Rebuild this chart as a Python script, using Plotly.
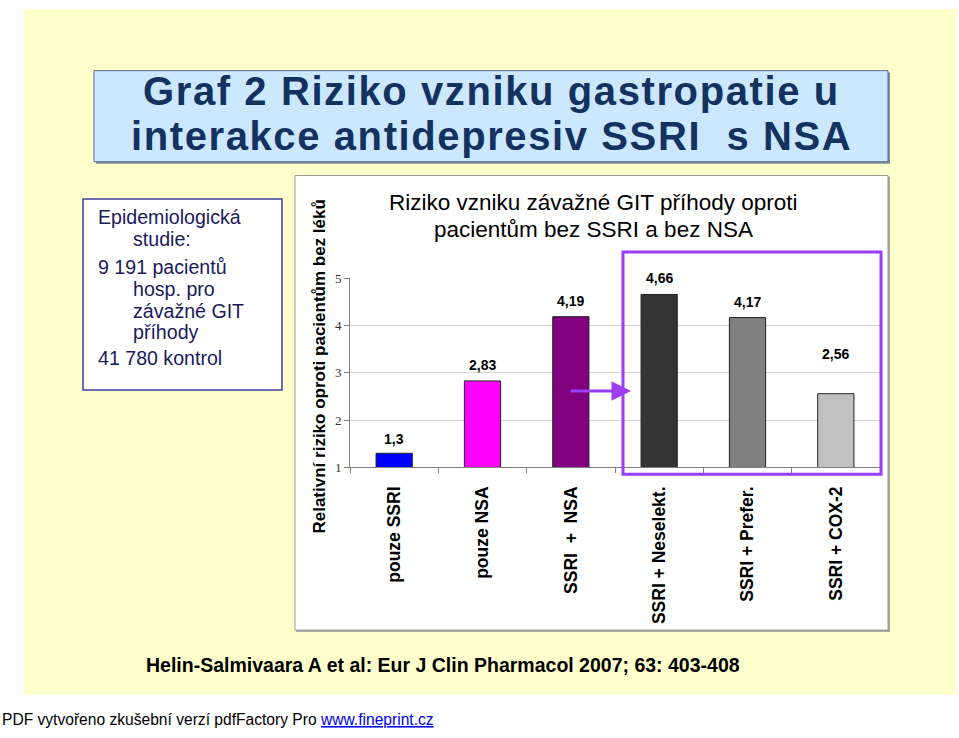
import plotly.graph_objects as go

# ---- data ----
categories = ["pouze SSRI", "pouze NSA", "SSRI\u00a0\u00a0+\u00a0\u00a0NSA",
              "SSRI + Neselekt.", "SSRI + Prefer.", "SSRI + COX-2"]
values = [1.3, 2.83, 4.19, 4.66, 4.17, 2.56]
bar_colors = ["#0000FF", "#FF00FF", "#800080", "#333333", "#808080", "#C0C0C0"]
y_ticks = [1, 2, 3, 4, 5]

title_lines = ["Graf 2 Riziko vzniku gastropatie u", "interakce antidepresiv SSRI  s NSA"]
chart_title_lines = ["Riziko vzniku závažné GIT příhody oproti", "pacientům bez SSRI a bez NSA"]
y_title = "Relativní riziko oproti pacientům bez léků"
citation = "Helin-Salmivaara A et al: Eur J Clin Pharmacol 2007; 63: 403-408"
footer = "PDF vytvořeno zkušební verzí pdfFactory Pro "
footer_link = "www.fineprint.cz"
box_lines = [("Epidemiologická", 0), ("studie:", 1), ("9 191 pacientů", 0), ("hosp. pro", 1),
             ("závažné GIT", 1), ("příhody", 1), ("41 780 kontrol", 0)]

W, H = 959, 738
def px(x): return x / W
def py(y): return 1 - y / H

SANS = "Liberation Sans, Arial, sans-serif"

fig = go.Figure()
fig.add_trace(go.Bar(
    x=categories, y=values, width=0.41,
    marker=dict(color=bar_colors, line=dict(color="#222222", width=1)),
    showlegend=False, hoverinfo="x+y"))

shapes = [
    dict(type="rect", xref="paper", yref="paper", x0=px(24), x1=px(956), y0=py(702), y1=py(2),
         fillcolor="#FFFFCC", line=dict(width=0), layer="below"),
    # title box shadow + box
    dict(type="rect", xref="paper", yref="paper", x0=px(96), x1=px(890), y0=py(160), y1=py(67),
         fillcolor="#7F8FA8", line=dict(width=0), layer="below"),
    dict(type="rect", xref="paper", yref="paper", x0=px(94), x1=px(888), y0=py(158), y1=py(65),
         fillcolor="#CCE8FF", line=dict(color="#4F6A8C", width=1), layer="below"),
    # left text box
    dict(type="rect", xref="paper", yref="paper", x0=px(83), x1=px(282), y0=py(391), y1=py(196),
         fillcolor="#FFFFFF", line=dict(color="#3B3F9E", width=1.5), layer="below"),
    # chart box
    dict(type="rect", xref="paper", yref="paper", x0=px(296), x1=px(890), y0=py(638), y1=py(173),
         fillcolor="#A8A8A0", line=dict(width=0), layer="below"),
    dict(type="rect", xref="paper", yref="paper", x0=px(295), x1=px(888), y0=py(636), y1=py(172),
         fillcolor="#FFFFFF", line=dict(color="#9A9A90", width=1), layer="below"),
    # purple highlight box
    dict(type="rect", xref="paper", yref="paper", x0=px(623), x1=px(881), y0=py(477), y1=py(250),
         fillcolor="rgba(0,0,0,0)", line=dict(color="#9B3DF2", width=3), layer="above"),
]

annotations = []
for t, yy in zip(title_lines, [86, 132]):
    annotations.append(dict(xref="paper", yref="paper", x=px(491), y=py(yy),
                            text="<span style='letter-spacing:1.6px'><b>" + t + "</b></span>",
                            showarrow=False, font=dict(family=SANS, size=40, color="#14325F"),
                            xanchor="center", yanchor="middle"))
for t, yy in zip(chart_title_lines, [200, 227]):
    annotations.append(dict(xref="paper", yref="paper", x=px(593), y=py(yy), text=t,
                            showarrow=False, font=dict(family=SANS, size=22.5, color="#000000"),
                            xanchor="center", yanchor="middle"))
annotations += [
    dict(xref="paper", yref="paper", x=px(320), y=py(367), text="<b>" + y_title + "</b>",
         showarrow=False, textangle=-90, font=dict(family=SANS, size=17, color="#000000"),
         xanchor="center", yanchor="middle"),
    dict(xref="paper", yref="paper", x=px(443), y=py(672), text="<b>" + citation + "</b>",
         showarrow=False, font=dict(family=SANS, size=19.5, color="#000000"),
         xanchor="center", yanchor="middle"),
    dict(xref="paper", yref="paper", x=px(0), y=py(727),
         text=footer + "<span style='color:#0000EE;text-decoration:underline'>" + footer_link + "</span>",
         showarrow=False, font=dict(family=SANS, size=15.6, color="#000000"),
         xanchor="left", yanchor="middle"),
    # arrow
    dict(xref="paper", yref="paper", x=px(631), y=py(392), ax=-62, ay=0, text="",
         showarrow=True, arrowhead=2, arrowsize=1.3, arrowwidth=3, arrowcolor="#9B3DF2"),
]

# left box text
line_y = [214, 237, 265, 288, 310, 332, 358]
for (t, indent), yy in zip(box_lines, line_y):
    annotations.append(dict(xref="paper", yref="paper", x=px(131 if indent else 96), y=py(yy),
                            text=t, showarrow=False, xanchor="left", yanchor="middle",
                            font=dict(family=SANS, size=19.6, color="#1A1A5A")))

# data labels
label_shift = [4, 6, 6, 6, 6, 30]
for c, v, s in zip(categories, values, label_shift):
    annotations.append(dict(x=c, y=v, xref="x", yref="y", text="<b>" + str(v).replace(".", ",") + "</b>",
                            showarrow=False, yshift=s, yanchor="bottom",
                            font=dict(family=SANS, size=14, color="#000000")))

fig.update_layout(
    width=W, height=H, margin=dict(l=0, r=0, t=0, b=0),
    paper_bgcolor="#FFFFFF", plot_bgcolor="rgba(0,0,0,0)",
    shapes=shapes, annotations=annotations, bargap=0.59,
    xaxis=dict(domain=[px(350), px(880)], type="category", showline=True, linecolor="#808080",
               linewidth=1, ticks="outside", tickson="boundaries", ticklen=5, tickcolor="#808080",
               tickangle=-90, ticklabelstandoff=11, showgrid=False,
               tickfont=dict(family=SANS, size=17.5, color="#000000")),
    yaxis=dict(domain=[py(470), py(277)], range=[1, 5], tickvals=y_ticks, showline=True,
               linecolor="#808080", linewidth=1, ticks="outside", ticklen=5, tickcolor="#808080",
               showgrid=True, gridcolor="#D4D4D4", gridwidth=1, zeroline=False,
               tickfont=dict(family="Liberation Serif, Times New Roman, serif", size=13, color="#333333")),
)
fig.update_xaxes(tickprefix="<b>", ticksuffix="</b>")

fig.write_html("out.html")
